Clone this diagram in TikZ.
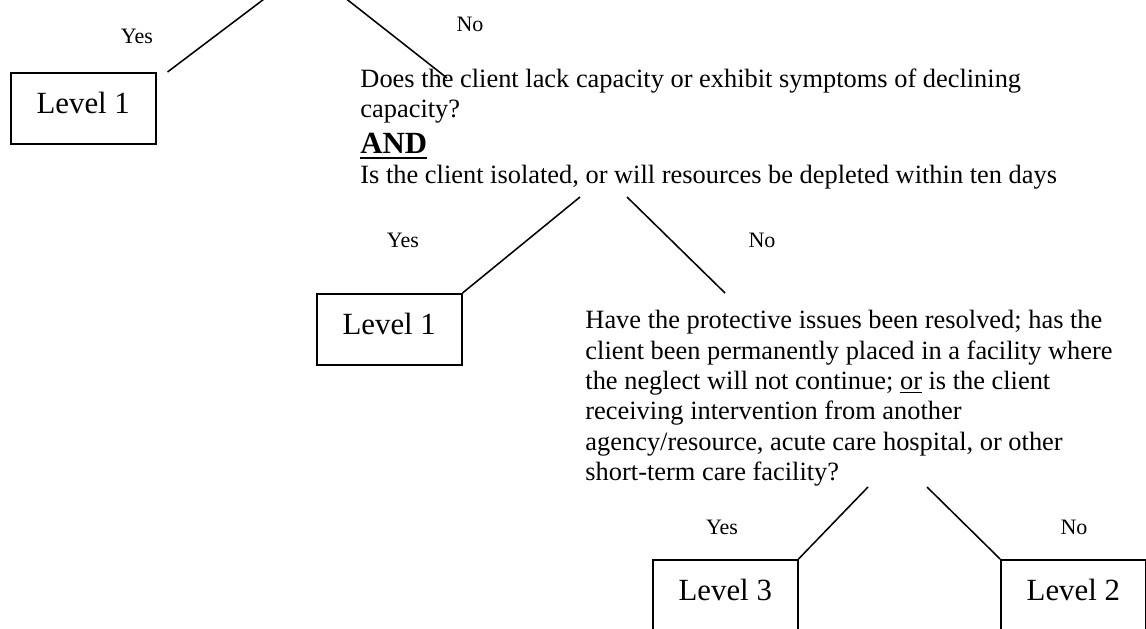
\documentclass[tikz,border=0pt]{standalone}
\usepackage{fontspec}
\setmainfont{Liberation Serif}
\usetikzlibrary{calc, positioning}

\newcommand{\thickul}[1]{\setbox0\hbox{#1}\rlap{\rule[-2.6pt]{\wd0}{1pt}}\box0}

\tikzset{
  levelbox/.style={rectangle, draw, line width=0.7pt, anchor=north west, minimum width=65.9pt, minimum height=32.3pt, inner sep=0pt, text height=9.6pt, text depth=4.5pt, font=\fontsize{14}{16.1}\selectfont},
  question/.style={anchor=north west, inner sep=0pt, align=left, font=\fontsize{12}{13.8}\selectfont},
  answer/.style={inner sep=0pt, font=\fontsize{10}{11.5}\selectfont},
  branch/.style={line width=0.7pt}
}

\begin{document}
\begin{tikzpicture}[x=0.4545pt, y=-0.4545pt]
  \useasboundingbox (0,0) rectangle (1146,629);
  \clip (0,0) rectangle (1146,629);

  % branch coming in from the cut-off question above
  \coordinate (topyes) at (276,-10);
  \coordinate (topno) at (335,-10);
  \node[levelbox] (lvA) at (10,72) {Level 1};
  \node[answer] (yA) at (137,36) {Yes};
  \node[answer] (nA) at (470,24) {No};

  % capacity question
  \node[question] (capq) at (360,68) {Does the client lack capacity or exhibit symptoms of declining\\
    capacity?\\[2.6pt]
    {\fontsize{14}{16.1}\selectfont\bfseries\thickul{AND}}\\
    Is the client isolated, or will resources be depleted within ten days};
  \coordinate (capin) at (447,78);
  \coordinate (capyes) at (580,197);
  \coordinate (capno) at (627,197);
  \node[levelbox] (lvB) at (316,293) {Level 1};
  \node[answer] (yB) at (403,240) {Yes};
  \node[answer] (nB) at (762,240) {No};

  % protective issues question
  \node[question] (protq) at (585,310) {Have the protective issues been resolved; has the\\
    client been permanently placed in a facility where\\
    the neglect will not continue; \underline{or} is the client\\
    receiving intervention from another\\
    agency/resource, acute care hospital, or other\\
    short-term care facility?};
  \coordinate (protin) at (725,293);
  \coordinate (protyes) at (868,487);
  \coordinate (protno) at (927,487);
  \node[levelbox] (lvC) at (652,559) {Level 3};
  \node[levelbox, anchor=west] (lvD) [right=91.6pt of lvC] {Level 2};
  \node[answer] (yC) at (722,527) {Yes};
  \node[answer] (nC) at (1074,527) {No};

  \draw[branch] (topyes) -- ($(lvA.north east)+(11,0)$);
  \draw[branch] (topno) -- (capin);
  \draw[branch] (capyes) -- (lvB.north east);
  \draw[branch] (capno) -- (protin);
  \draw[branch] (protyes) -- (lvC.north east);
  \draw[branch] (protno) -- (lvD.north west);
\end{tikzpicture}
\end{document}
